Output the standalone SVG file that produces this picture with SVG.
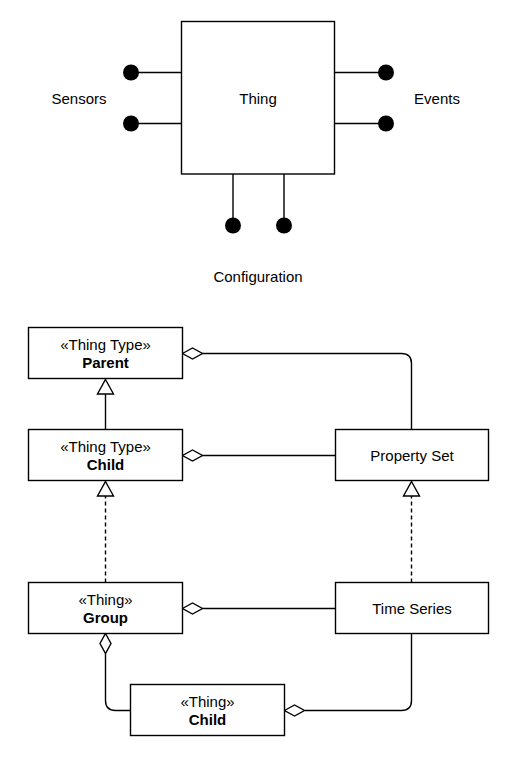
<svg xmlns="http://www.w3.org/2000/svg" width="517" height="762" viewBox="0 0 517 762">
<defs>
<style>
.box{fill:#fff;stroke:#000;stroke-width:1.4}
.ln{fill:none;stroke:#000;stroke-width:1.4}
.dash{fill:none;stroke:#000;stroke-width:1.4;stroke-dasharray:4 3}
.dot{fill:#000}
.t{font-family:"Liberation Sans",Arial,Helvetica,sans-serif;font-size:15px;fill:#000;text-anchor:middle}
.b{font-weight:bold}
.dia{fill:#fff;stroke:#000;stroke-width:1.4}
.tri{fill:#fff;stroke:#000;stroke-width:1.4}
</style>
</defs>
<rect width="517" height="762" fill="#fff"/>

<g id="connectors">
<line class="ln" x1="131" y1="72.5" x2="182" y2="72.5"/>
<line class="ln" x1="131" y1="123.5" x2="182" y2="123.5"/>
<line class="ln" x1="335" y1="72.5" x2="386" y2="72.5"/>
<line class="ln" x1="335" y1="123.5" x2="386" y2="123.5"/>
<line class="ln" x1="233" y1="174" x2="233" y2="225.5"/>
<line class="ln" x1="284" y1="174" x2="284" y2="225.5"/>
<circle class="dot" cx="131" cy="72.5" r="8"/>
<circle class="dot" cx="131" cy="123.5" r="8"/>
<circle class="dot" cx="386" cy="72.5" r="8"/>
<circle class="dot" cx="386" cy="123.5" r="8"/>
<circle class="dot" cx="233" cy="225.5" r="8"/>
<circle class="dot" cx="284" cy="225.5" r="8"/>

<path class="ln" d="M411.5 429.5 V363.5 Q411.5 353.5 401.5 353.5 H202.5"/>
<polygon class="dia" points="182.5,353.5 192.5,348 202.5,353.5 192.5,359"/>
<line class="ln" x1="105.5" y1="429.5" x2="105.5" y2="394"/>
<polygon class="tri" points="105.5,379.5 113.5,394 97.5,394"/>
<line class="ln" x1="335.5" y1="455.5" x2="202.5" y2="455.5"/>
<polygon class="dia" points="182.5,455.5 192.5,450 202.5,455.5 192.5,461"/>
<line class="dash" x1="105.5" y1="582.5" x2="105.5" y2="496"/>
<polygon class="tri" points="105.5,481.5 113.5,496 97.5,496"/>
<line class="dash" x1="411.5" y1="582.5" x2="411.5" y2="496"/>
<polygon class="tri" points="411.5,481.5 419.5,496 403.5,496"/>
<line class="ln" x1="335.5" y1="608.5" x2="202.5" y2="608.5"/>
<polygon class="dia" points="182.5,608.5 192.5,603 202.5,608.5 192.5,614"/>
<path class="ln" d="M130.5 710.5 H115.5 Q105.5 710.5 105.5 700.5 V654"/>
<polygon class="dia" points="105.5,633.5 111,643.5 105.5,653.5 100,643.5"/>
<path class="ln" d="M411.5 633.5 V700.5 Q411.5 710.5 401.5 710.5 H305"/>
<polygon class="dia" points="284.5,710.5 294.5,705 304.5,710.5 294.5,716"/>
</g>

<g id="thing">
<rect class="box" x="181.5" y="21.5" width="153" height="152.5"/>
<text class="t" x="258" y="103.5">Thing</text>
</g>
<g id="sensors"><text class="t" x="79" y="103.5">Sensors</text></g>
<g id="events"><text class="t" x="437" y="103.5">Events</text></g>
<g id="configuration"><text class="t" x="258" y="282">Configuration</text></g>

<g id="parent">
<rect class="box" x="28.5" y="327.5" width="154" height="51"/>
<text class="t" x="105.5" y="350">«Thing Type»</text>
<text class="t b" x="105.5" y="368">Parent</text>
</g>
<g id="child-type">
<rect class="box" x="28.5" y="429.5" width="154" height="51"/>
<text class="t" x="105.5" y="452">«Thing Type»</text>
<text class="t b" x="105.5" y="470">Child</text>
</g>
<g id="property-set">
<rect class="box" x="335.5" y="429.5" width="153" height="51"/>
<text class="t" x="412" y="461">Property Set</text>
</g>
<g id="group">
<rect class="box" x="28.5" y="582.5" width="154" height="51"/>
<text class="t" x="105.5" y="605">«Thing»</text>
<text class="t b" x="105.5" y="623">Group</text>
</g>
<g id="time-series">
<rect class="box" x="335.5" y="582.5" width="153" height="51"/>
<text class="t" x="412" y="614">Time Series</text>
</g>
<g id="thing-child">
<rect class="box" x="130.5" y="684.5" width="154" height="51"/>
<text class="t" x="207.5" y="707">«Thing»</text>
<text class="t b" x="207.5" y="725">Child</text>
</g>
</svg>
